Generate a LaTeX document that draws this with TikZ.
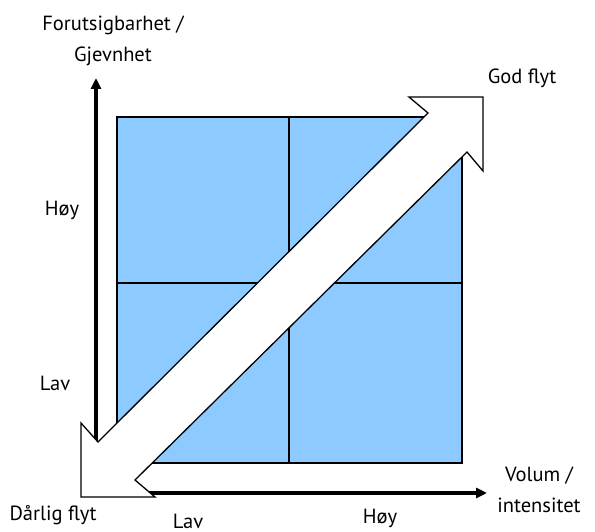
\documentclass[tikz,border=0pt]{standalone}
\usepackage{fontspec}
\setmainfont{PT Sans}
\usetikzlibrary{arrows.meta}
\definecolor{cellblue}{RGB}{140,202,255}

\begin{document}
\begin{tikzpicture}[
    x=1pt, y=-1pt,
    cell/.style={draw, fill=cellblue, line width=1.3pt},
    axis/.style={-{Triangle[length=11pt, width=10pt]}, line width=3.6pt},
    txt/.style={font=\fontsize{20.5}{31}\selectfont, align=center, inner sep=0pt},
    flow/.style={draw, fill=white, line width=1.3pt, line join=miter},
]
    \useasboundingbox (0,0) rectangle (595,532);

    % matrix cells
    \foreach \xa/\xb in {117/289, 289/462}
        \foreach \ya/\yb in {117/283, 283/463}
            \draw[cell] (\xa,\ya) rectangle (\xb,\yb);

    % axes
    \coordinate (origin) at (96,493);
    \coordinate (ytop) at (96,78);
    \coordinate (xend) at (487,493);
    \draw[axis] (origin) -- (ytop);
    \draw[axis] (110,493) -- (xend);

    % double arrow
    \coordinate (goodtip) at (483,97);
    \coordinate (badtip) at (81,497);
    \draw[flow] (goodtip) -- (409,97) -- (428,113) -- (98,442) -- (81,423)
        -- (badtip) -- (155,497) -- (135,480) -- (467,152) -- (483,171) -- cycle;

    % labels
    \node[txt] (yname) at (113,41) {Forutsigbarhet /\\Gjevnhet};
    \node[txt] (yhigh) at (62,210) {Høy};
    \node[txt] (ylow) at (55,383) {Lav};
    \node[txt] (xlow) at (188,521) {Lav};
    \node[txt] (xhigh) at (380,518) {Høy};
    \node[txt] (xname) at (539,490) {Volum /\\intensitet};
    \node[txt] (good) at (522,78) {God flyt};
    \node[txt] (bad) at (53,515) {Dårlig flyt};
\end{tikzpicture}
\end{document}
